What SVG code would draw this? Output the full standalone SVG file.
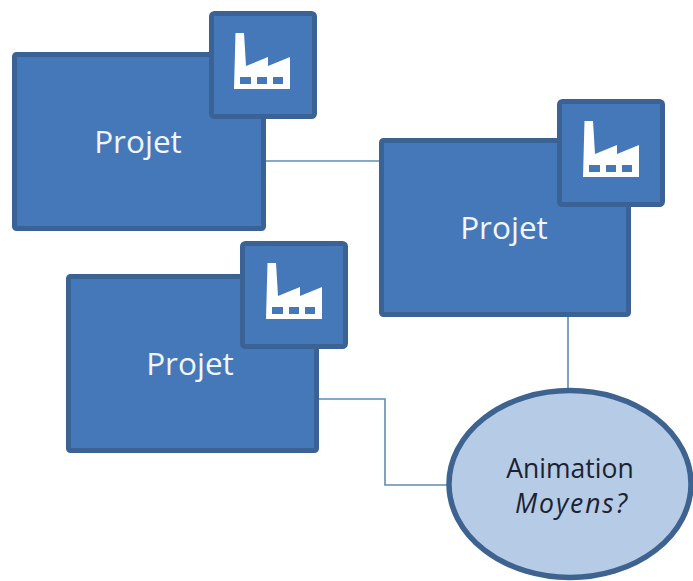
<svg xmlns="http://www.w3.org/2000/svg" width="693" height="581" viewBox="0 0 693 581">
<defs>
<path id="factory" d="M1.500 0H10L12 33L34 24V33L56 24V56H0Z M6 44V51H17V44Z M23 44V51H33V44Z M39 44V51H49V44Z" fill="#fff" fill-rule="evenodd"/>
</defs>
<style>
.box{fill:#4578b8;stroke:#3a6294;stroke-width:5}
.conn{fill:none;stroke:#5f8cb4;stroke-width:1.6}
.lbl{font-family:"Open Sans","Noto Sans",sans-serif;font-size:31.500px;fill:#f2f5fa;text-anchor:middle}
.el{font-family:"Open Sans","Noto Sans",sans-serif;font-size:26.500px;fill:#1c2230;text-anchor:middle}
</style>
<rect width="693" height="581" fill="#fff"/>
<g id="connectors">
<path class="conn" d="M264 161H381"/>
<path class="conn" d="M568 315V390"/>
<path class="conn" d="M317 399H385V485H451"/>
</g>
<g id="node1">
<rect class="box" x="14.500" y="54.500" width="249" height="174" rx="2"/>
<text class="lbl" x="138" y="153">Projet</text>
<rect class="box" x="211.500" y="13.500" width="103" height="103" rx="3"/>
<use href="#factory" x="234" y="33"/>
</g>
<g id="node2">
<rect class="box" x="381.500" y="140.500" width="247" height="174" rx="2"/>
<text class="lbl" x="504" y="239">Projet</text>
<rect class="box" x="559.500" y="101.500" width="103" height="103" rx="3"/>
<use href="#factory" x="583" y="121"/>
</g>
<g id="node3">
<rect class="box" x="68.500" y="276.500" width="248" height="174" rx="2"/>
<text class="lbl" x="190" y="375">Projet</text>
<rect class="box" x="242.500" y="243.500" width="103" height="103" rx="3"/>
<use href="#factory" x="266" y="263"/>
</g>
<g id="node4">
<ellipse cx="570" cy="484" rx="121" ry="93.500" fill="#b6cbe5" stroke="#3f6390" stroke-width="5.500"/>
<text class="el" x="570" y="478">Animation</text>
<text class="el" x="571" y="513" font-style="italic" textLength="112" lengthAdjust="spacing">Moyens?</text>
</g>
</svg>
